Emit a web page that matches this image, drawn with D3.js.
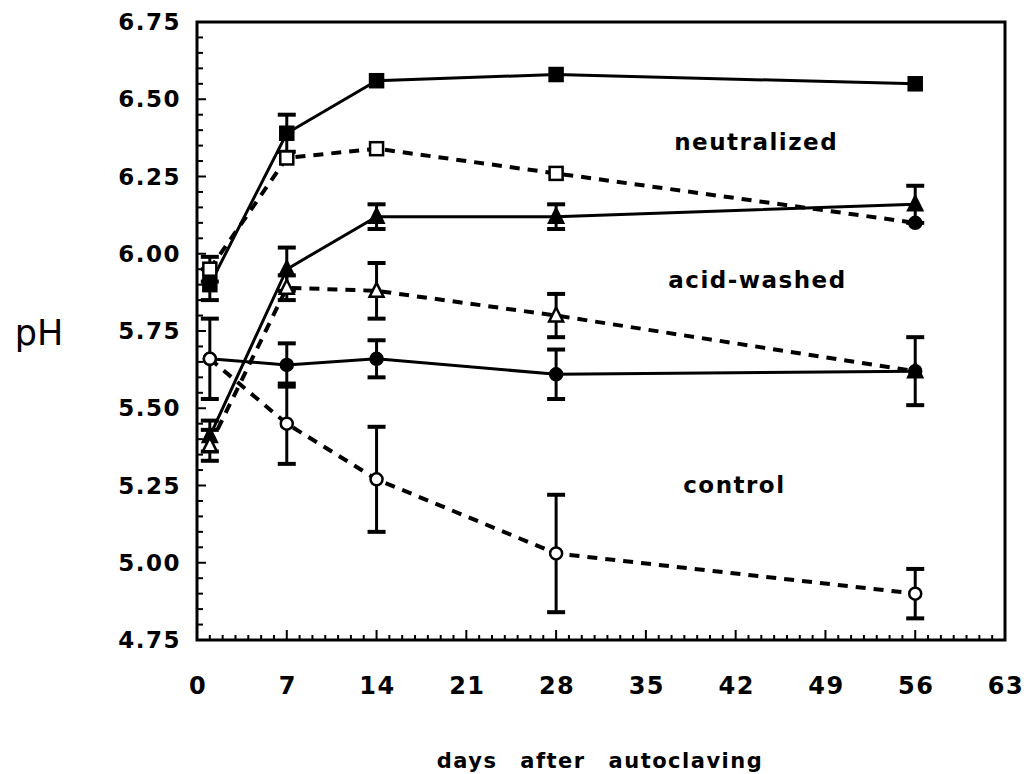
<!DOCTYPE html>
<html>
<head>
<meta charset="utf-8">
<script src="https://cdn.jsdelivr.net/npm/d3@7"></script>
<style>
  body { margin: 0; background: #fff; }
  text { font-family: "DejaVu Sans", sans-serif; fill: #000; }
</style>
</head>
<body>
<svg id="chart" width="1027" height="774"></svg>
<script>

var days = [1, 7, 14, 28, 56];

var neutralizedSolid = [5.90, 6.39, 6.56, 6.58, 6.55];
var neutralizedSolidErr = [0.05, 0.06, 0, 0, 0];
var neutralizedDashed = [5.95, 6.31, 6.34, 6.26, 6.10];
var neutralizedDashedErr = [0.04, 0, 0, 0, 0];
var acidSolid = [5.41, 5.95, 6.12, 6.12, 6.16];
var acidSolidErr = [0.05, 0.07, 0.04, 0.04, 0.06];
var acidDashed = [5.38, 5.89, 5.88, 5.80, 5.62];
var acidDashedErr = [0.05, 0.04, 0.09, 0.07, 0];
var controlSolid = [5.66, 5.64, 5.66, 5.61, 5.62];
var controlSolidErr = [0.13, 0.07, 0.06, 0.08, 0.11];
var controlDashed = [5.66, 5.45, 5.27, 5.03, 4.90];
var controlDashedErr = [0, 0.13, 0.17, 0.19, 0.08];

var xTicks = [0, 7, 14, 21, 28, 35, 42, 49, 56, 63];
var yTicks = [4.75, 5.00, 5.25, 5.50, 5.75, 6.00, 6.25, 6.50, 6.75];

var groupLabels = ["neutralized", "acid-washed", "control"];
var groupLabelDay = [43.6, 43.7, 41.9];
var groupLabelPH = [6.336, 5.89, 5.226];

var series = [
  {v: neutralizedSolid, e: neutralizedSolidErr, shape: "square", filled: true, dashed: false},
  {v: neutralizedDashed, e: neutralizedDashedErr, shape: "square", filled: false, dashed: true},
  {v: acidSolid, e: acidSolidErr, shape: "triangle", filled: true, dashed: false},
  {v: acidDashed, e: acidDashedErr, shape: "triangle", filled: false, dashed: true},
  {v: controlSolid, e: controlSolidErr, shape: "circle", filled: true, dashed: false},
  {v: controlDashed, e: controlDashedErr, shape: "circle", filled: false, dashed: true}
];

var svg = d3.select("#chart");

var plotLeft = 197, plotRight = 1005, plotTop = 22, plotBottom = 640;

var x = d3.scaleLinear().domain([0, 63]).range([plotLeft, plotRight]);
var y = d3.scaleLinear().domain([4.75, 6.75]).range([plotBottom, plotTop]);

// minor ticks inside the frame
var yMinor = d3.range(0, 41).map(function(i){ return 4.75 + i * 0.05; });
svg.append("g").selectAll("line").data(yMinor).join("line")
  .attr("x1", plotLeft).attr("x2", function(d, i){ return plotLeft + (i % 5 == 0 ? 9 : 6); })
  .attr("y1", function(d){ return y(d); }).attr("y2", function(d){ return y(d); })
  .attr("stroke", "#000").attr("stroke-width", 2);

var xMinor = d3.range(0, 64, 1);
svg.append("g").selectAll("line").data(xMinor).join("line")
  .attr("x1", function(d){ return x(d); }).attr("x2", function(d){ return x(d); })
  .attr("y1", plotBottom).attr("y2", function(d){ return plotBottom - (d % 7 == 0 ? 10 : 5); })
  .attr("stroke", "#000").attr("stroke-width", 2);

// frame
svg.append("rect")
  .attr("x", plotLeft).attr("y", plotTop)
  .attr("width", plotRight - plotLeft).attr("height", plotBottom - plotTop)
  .attr("fill", "none").attr("stroke", "#000").attr("stroke-width", 3);

// tick labels
svg.append("g").selectAll("text").data(yTicks).join("text")
  .attr("x", 181).attr("y", function(d){ return y(d) + 8; })
  .attr("text-anchor", "end")
  .attr("font-size", 23).attr("font-weight", "bold").attr("letter-spacing", 1.5)
  .text(function(d){ return d.toFixed(2); });

svg.append("g").selectAll("text").data(xTicks).join("text")
  .attr("x", function(d){ return x(d) + 1; }).attr("y", 694)
  .attr("text-anchor", "middle")
  .attr("font-size", 24).attr("font-weight", "bold").attr("letter-spacing", 1.5)
  .text(function(d){ return d; });

svg.append("text")
  .attr("x", 600).attr("y", 768)
  .attr("text-anchor", "middle")
  .attr("font-size", 21).attr("font-weight", "bold").attr("letter-spacing", 1.5)
  .attr("word-spacing", 14)
  .text("days after autoclaving");

svg.append("text")
  .attr("x", 39).attr("y", 345)
  .attr("text-anchor", "middle")
  .attr("font-size", 35)
  .text("pH");

// group labels
svg.append("g").selectAll("text").data(groupLabels).join("text")
  .attr("x", function(d, i){ return x(groupLabelDay[i]); })
  .attr("y", function(d, i){ return y(groupLabelPH[i]); })
  .attr("text-anchor", "middle")
  .attr("font-size", 23).attr("font-weight", "bold").attr("letter-spacing", 1.5)
  .text(function(d){ return d; });

var line = d3.line()
  .x(function(d){ return x(d[0]); })
  .y(function(d){ return y(d[1]); });

series.forEach(function(s){
  var pts = days.map(function(d, i){ return [d, s.v[i], s.e[i]]; });

  svg.append("path").datum(pts)
    .attr("d", line)
    .attr("fill", "none").attr("stroke", "#000")
    .attr("stroke-width", s.dashed ? 4 : 3)
    .attr("stroke-dasharray", s.dashed ? "10,8" : null);

  var g = svg.append("g");
  pts.filter(function(p){ return p[2] > 0; }).forEach(function(p){
    var cx = x(p[0]), y0 = y(p[1] - p[2]), y1 = y(p[1] + p[2]);
    g.append("line").attr("x1", cx).attr("x2", cx).attr("y1", y0).attr("y2", y1)
      .attr("stroke", "#000").attr("stroke-width", 3);
    [y0, y1].forEach(function(yy){
      g.append("line").attr("x1", cx - 9).attr("x2", cx + 9).attr("y1", yy).attr("y2", yy)
        .attr("stroke", "#000").attr("stroke-width", 4);
    });
  });
});

// markers on top
series.forEach(function(s, si){
  var g = svg.append("g");
  days.forEach(function(d, i){
    var cx = x(d), cy = y(s.v[i]);
    // last open-square point is printed as a solid dot in the original
    var isLastOpenSquare = (si == 1 && i == days.length - 1);
    var filled = s.filled || isLastOpenSquare;
    var fill = filled ? "#000" : "#fff";
    var shape = isLastOpenSquare ? "circle" : s.shape;
    if (shape == "square") {
      g.append("rect").attr("x", cx - 6.5).attr("y", cy - 6.5).attr("width", 13).attr("height", 13)
        .attr("fill", fill).attr("stroke", "#000").attr("stroke-width", 2.5);
    } else if (shape == "triangle") {
      g.append("path").attr("d", "M" + cx + "," + (cy - 8) + "L" + (cx + 7) + "," + (cy + 6) + "L" + (cx - 7) + "," + (cy + 6) + "Z")
        .attr("fill", fill).attr("stroke", "#000").attr("stroke-width", 2.5);
    } else {
      g.append("circle").attr("cx", cx).attr("cy", cy).attr("r", 6)
        .attr("fill", fill).attr("stroke", "#000").attr("stroke-width", 2.5);
    }
  });
});

</script>
</body>
</html>
